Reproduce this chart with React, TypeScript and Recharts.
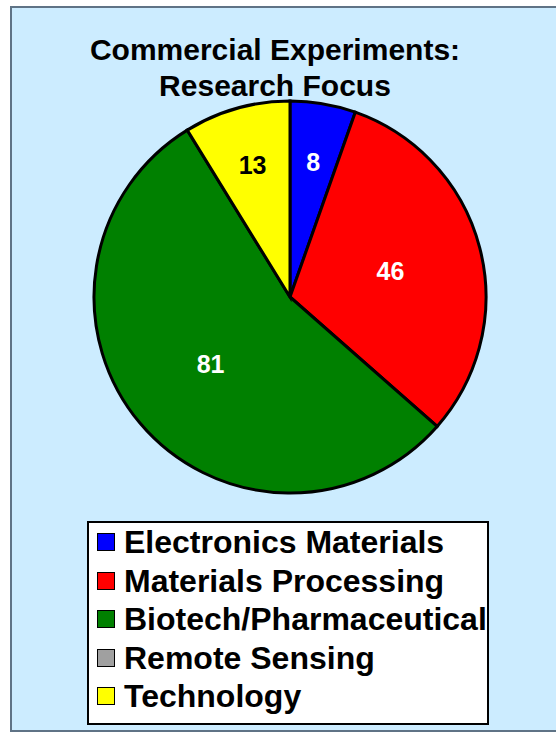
import React from "react"
import { PieChart, Pie, Cell } from "recharts"

const categories = [
  "Electronics Materials",
  "Materials Processing",
  "Biotech/Pharmaceutical",
  "Remote Sensing",
  "Technology",
]
const experiments = [8, 46, 81, 0, 13]
const sliceColors = ["#0000FF", "#FF0000", "#008000", "#A0A0A0", "#FFFF00"]
const labelColors = ["#FFFFFF", "#FFFFFF", "#FFFFFF", "#FFFFFF", "#000000"]
const titleLines = ["Commercial Experiments:", "Research Focus"]

const FONT = "'Liberation Sans', Arial, Helvetica, sans-serif"
const RAD = Math.PI / 180

const data = categories.map((name, i) => ({ name, value: experiments[i] }))

// small slices get their number pushed further out toward the rim
function renderLabel(props: any) {
  const { cx, cy, midAngle, outerRadius, percent, value, index } = props
  if (!value) return null
  const r = outerRadius * (percent < 0.1 ? 0.7 : 0.53)
  const x = cx + r * Math.cos(-midAngle * RAD)
  const y = cy + r * Math.sin(-midAngle * RAD)
  return (
    <text
      x={x}
      y={y}
      fill={labelColors[index]}
      textAnchor="middle"
      dominantBaseline="central"
      fontFamily={FONT}
      fontWeight="bold"
      fontSize={25}
    >
      {value}
    </text>
  )
}

export default function App() {
  return (
    <div style={{ position: "absolute", left: 0, top: 0, width: 556, height: 734, background: "#FFFFFF", overflow: "hidden" }}>
      <div
        style={{
          position: "absolute",
          left: 10,
          top: 6,
          width: 560,
          height: 726,
          boxSizing: "border-box",
          border: "2px solid #5F7386",
          background: "#CCECFF",
        }}
      />
      <div
        style={{
          position: "absolute",
          left: 0,
          top: 32,
          width: 550,
          textAlign: "center",
          fontFamily: FONT,
          fontWeight: "bold",
          fontSize: 30,
          lineHeight: "36px",
          color: "#000",
        }}
      >
        {titleLines.map((t) => (
          <div key={t}>{t}</div>
        ))}
      </div>
      <div style={{ position: "absolute", left: 0, top: 0 }}>
        <PieChart width={556} height={520} margin={{ top: 0, right: 0, bottom: 0, left: 0 }}>
          <Pie
            data={data}
            dataKey="value"
            nameKey="name"
            cx={290}
            cy={297}
            outerRadius={196}
            startAngle={90}
            endAngle={-270}
            stroke="#000000"
            strokeWidth={3}
            labelLine={false}
            label={renderLabel}
            isAnimationActive={false}
          >
            {data.map((d, i) => (
              <Cell key={d.name} fill={sliceColors[i]} />
            ))}
          </Pie>
        </PieChart>
      </div>
      <div
        style={{
          position: "absolute",
          left: 87,
          top: 521,
          width: 402,
          height: 204,
          boxSizing: "border-box",
          border: "2px solid #000",
          background: "#FFFFFF",
        }}
      >
        {categories.map((name, i) => (
          <div
            key={name}
            style={{ position: "absolute", left: 0, top: i * 38.6, height: 38.6, width: 398 }}
          >
            <div
              style={{
                position: "absolute",
                left: 8,
                top: 10,
                width: 18,
                height: 18,
                boxSizing: "border-box",
                border: "1.5px solid #000",
                background: sliceColors[i],
              }}
            />
            <div
              style={{
                position: "absolute",
                left: 35,
                top: 0,
                lineHeight: "38.6px",
                fontFamily: FONT,
                fontWeight: "bold",
                fontSize: 32,
                color: "#000",
                whiteSpace: "nowrap",
              }}
            >
              {name}
            </div>
          </div>
        ))}
      </div>
    </div>
  )
}
